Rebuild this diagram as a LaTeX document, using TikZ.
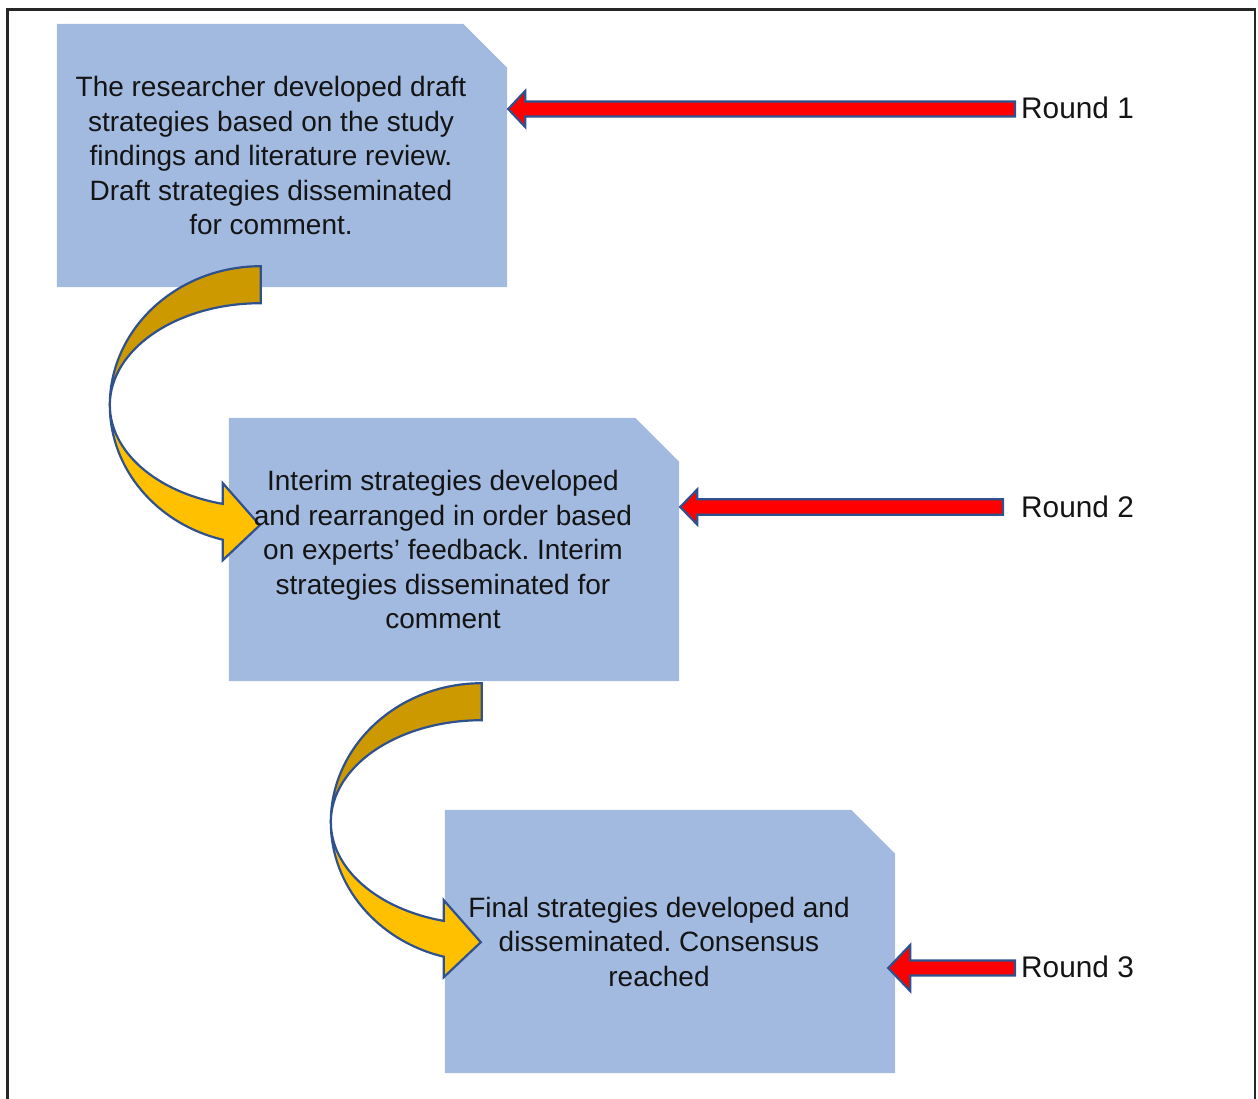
\documentclass[tikz,border=0pt]{standalone}
\usepackage{fontspec}
\setmainfont{Liberation Sans}
\frenchspacing
\usetikzlibrary{calc}
\pgfdeclarelayer{background}
\pgfsetlayers{background,main}

\definecolor{boxfill}{RGB}{162,185,224}
\definecolor{edgeblue}{RGB}{47,82,143}
\definecolor{goldlight}{RGB}{255,192,0}
\definecolor{golddark}{RGB}{204,153,0}
\definecolor{arrowred}{RGB}{255,0,0}

\tikzset{
  stagebox/.style={minimum width=450pt, minimum height=263pt, inner sep=0pt},
  boxtext/.style={align=center, inner sep=0pt, text=black!92,
    font=\fontsize{28}{34.5}\selectfont},
  roundtxt/.style={anchor=west, inner sep=0pt, text=black!92,
    font=\fontsize{29.8}{34.5}\selectfont},
  snipfill/.style={fill=boxfill},
  redarrow/.style={fill=arrowred, draw=edgeblue, line width=2.2pt, line join=miter},
  curvdark/.style={fill=golddark, draw=edgeblue, line width=2.2pt, line join=miter},
  curvlight/.style={fill=goldlight, draw=edgeblue, line width=2.2pt, line join=miter},
  frameline/.style={draw=black!85, line width=2.5pt}
}

% rectangle with its top-right corner cut off
\newcommand\snipbox[1]{%
  \fill[snipfill] (#1.south west) -- (#1.north west)
    -- ($(#1.north east)+(-44,0)$) -- ($(#1.north east)+(0,44)$)
    -- (#1.south east) -- cycle;}

% straight block arrow: tail, tip, head length, head half width, shaft half width
\newcommand\blockarrow[5]{%
  \draw[redarrow] (#2) -- ($(#2)+(#3,-#4)$) -- ($(#2)+(#3,-#5)$)
    -- ($(#1)+(0,-#5)$) -- ($(#1)+(0,#5)$)
    -- ($(#2)+(#3,#5)$) -- ($(#2)+(#3,#4)$) -- cycle;}

% curved arrow around centre #1: outer ellipse 151x139, inner 151x102
\newcommand\bendarrow[1]{%
  \filldraw[curvdark] ($(#1)+(0,-139)$)
    arc[start angle=270, end angle=180, x radius=151, y radius=139]
    arc[start angle=180, end angle=270, x radius=151, y radius=102] -- cycle;
  \filldraw[curvlight] ($(#1)+(-151,0)$)
    arc[start angle=180, end angle=104.6, x radius=151, y radius=139]
    -- ($(#1)+(-38,155)$) -- ($(#1)+(-1,120)$) -- ($(#1)+(-38,78)$)
    -- ($(#1)+(-38,98.7)$)
    arc[start angle=104.6, end angle=180, x radius=151, y radius=102] -- cycle;}

\begin{document}
\begin{tikzpicture}[x=1pt, y=-1pt]
\useasboundingbox (0,0) rectangle (1258,1099);

% outer frame
\draw[frameline] (7.5,1099) -- (7.5,9.5) -- (1255,9.5) -- (1255,1099);

% stage boxes
\node[stagebox] (box1) at (282,155.5) {};
\node[stagebox] (box2) at (454,549.5) {};
\node[stagebox] (box3) at (670,941.5) {};

% box texts
\node[boxtext] (txt1) at ($(box1.center)+(-11,0)$)
  {The researcher developed draft\\strategies based on the study\\findings and literature review.\\Draft strategies disseminated\\for comment.};
\node[boxtext] (txt2) at ($(box2.center)+(-11,0)$)
  {Interim strategies developed\\and rearranged in order based\\on experts’ feedback. Interim\\strategies disseminated for\\comment};
\node[boxtext] (txt3) at ($(box3.center)+(-11,0)$)
  {Final strategies developed and\\disseminated. Consensus\\reached};

% round labels
\node[roundtxt] (r1) at (1021,108) {Round 1};
\node[roundtxt] (r2) at (1021,507) {Round 2};
\node[roundtxt] (r3) at (1021,967) {Round 3};

% tails of the red arrows
\coordinate (a1) at ($(r1.west)+(-6,1)$);
\coordinate (a2) at ($(r2.west)+(-18,0)$);
\coordinate (a3) at ($(r3.west)+(-6,1)$);

% centres of the curved arrows
\coordinate (c1) at ($(box1.south west)+(204,118)$);
\coordinate (c2) at ($(box2.south west)+(253,141)$);

\begin{pgfonlayer}{background}
  \snipbox{box1}
  \snipbox{box2}
  \snipbox{box3}
  \bendarrow{c1}
  \bendarrow{c2}
\end{pgfonlayer}

\blockarrow{a1}{$(box1.east |- a1)+(1,0)$}{17}{18}{7.5}
\blockarrow{a2}{$(box2.east |- a2)+(1,0)$}{17}{17.5}{7.7}
\blockarrow{a3}{$(box3.east |- a3)+(-7,0)$}{22}{23}{7.5}
\end{tikzpicture}
\end{document}
